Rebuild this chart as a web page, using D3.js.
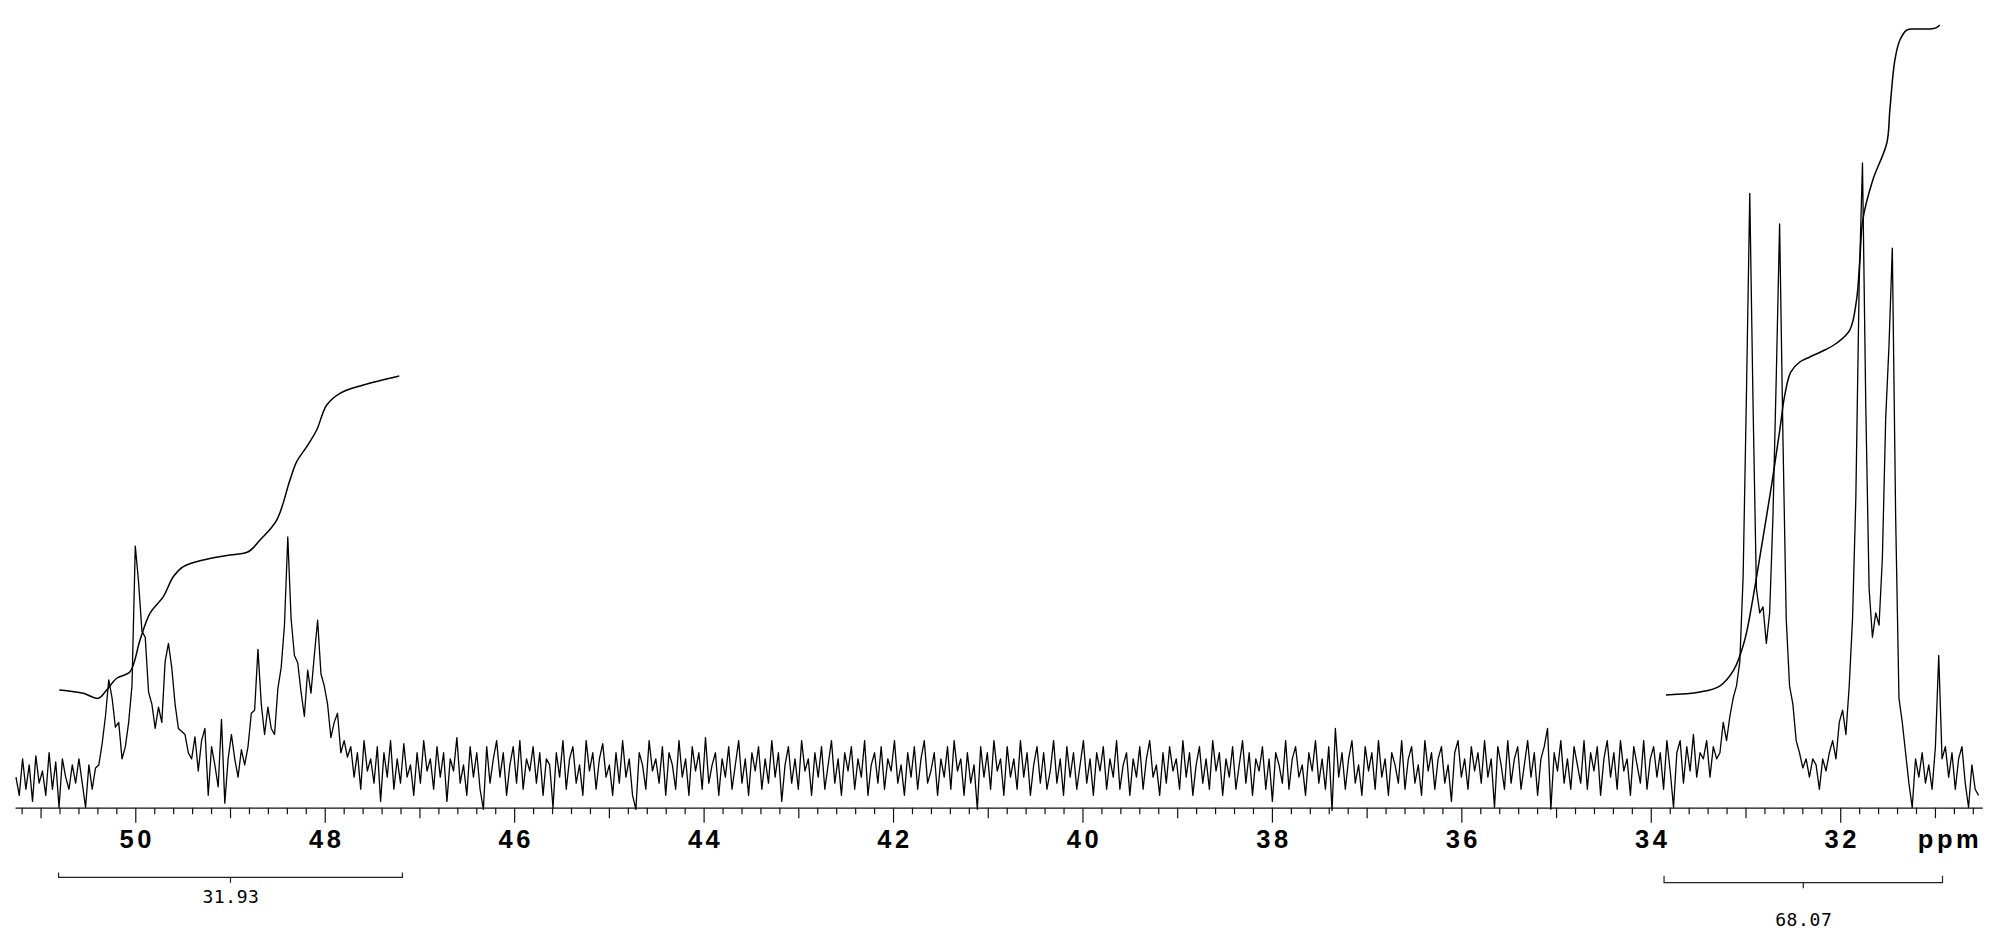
<!DOCTYPE html>
<html>
<head>
<meta charset="utf-8">
<script src="https://cdnjs.cloudflare.com/ajax/libs/d3/7.8.5/d3.min.js"></script>
<style>
  html, body { margin: 0; padding: 0; background: #fff; }
  svg { display: block; }
  .tick-label { font-family: "Liberation Sans", Arial, sans-serif; font-weight: bold; font-size: 25.5px; letter-spacing: 3.5px; fill: #000; }
  .int-label { font-family: "DejaVu Sans Mono", "Liberation Mono", monospace; font-size: 18px; letter-spacing: 0.6px; fill: #000; }
</style>
</head>
<body>
<div id="chart"></div>
<script>
// 13C spectrum, ppm grid: first point at 51.26 ppm, one point every 0.035 ppm
const ppmStart = 51.26;
const ppmStep = 0.035;

// intensity (0 = baseline, 100 = tallest line at 31.77 ppm)
const spectrum = [
  -1, -4, 2, -3, 1, -5, 2.5, -2, 0, -4, 3, -3, 1.5, -6, 2, -1, -3, 1, -2, 2,
  -2, -6, 1, -3, 0.5, 1, 4.5, 9, 15, 12, 7.2, 8, 2, 4, 8, 14, 37, 31, 23, 22,
  13, 11, 7, 10.5, 8, 18, 21, 17, 11, 7, 6.5, 6, 3, 2, 5.6, 0, 5, 7, -4, 4,
  1, -2.6, 8.5, -5.3, 2, 6, 2, -1, 3.5, 1, 4, 9.5, 10, 20, 11, 6, 10.5, 7, 6, 13.5,
  17, 24, 38.5, 25, 19, 17.8, 13, 9, 16.6, 12.8, 19, 24.8, 16, 14, 11, 5.5, 8, 9.5, 3, 5,
  2.3, 4, -1, 3, -3, 5, 0, 2, -2, 4, -5, 3, -1, 5, -3, 2, -2, 4.5, -1, 1,
  -4, 3, -2, 5, 0, 2, -3, 4, -1, 3, -5, 2, 0, 5.5, -2, 1, -4, 4, -1, 3,
  -3, -6.3, 4, -2, 2, 5, -1, 3, -4, 1, 4, -2, 5, -3, 2, 0, 4, -2, 3, -4,
  2, 1, -6, 3, -1, 5, -3, 2, 4, -2, 1, -4, 5, 0, 3, -3, 2, 4.5, -1, 1,
  -4, 3, -2, 5, -1, 2, -4, -6.3, 3, 1, -3, 5, 0, 2, -2, 4, -4, 3, 1, -3,
  5, -1, 2, -4, 4, 0, 3, -3, 5.5, -2, 1, 3, -4, 2, -1, 4, -3, 1, 5, -2,
  2, -4, 3, 0, 4, -3, 2, -2, 5, -1, 3, -5, 1, 4, -2, 2, -3, 5, 0, 2,
  -4, 3, -1, 4, -3, 1, 5, -2, 2, -4, 3, 0, 4, -3, 2, -1, 5, -4, 1, 3,
  -2, 4, -3, 2, 0, 5, -2, 1, -4, 3, -1, 4, -3, 2, 5, -2, 0, 3, -4, 2,
  -1, 4, -3, 5, 0, 2, -4, 3, -2, 1, -6.3, 4, -1, 3, -3, 5, 0, 2, -4, 4,
  -1, 2, -3, 5, -1, 3, -4, 1, 4, -2, 3, -3, 0, 5, -2, 2, -4, 4, -1, 3,
  -3, 1, 5, -2, 2, -4, 3, 0, 4, -3, 2, -1, 5, -3, 1, 3, -4, 2, -1, 4,
  -3, 2, 5, -1, 1, -4, 3, -2, 4, 0, 2, -3, 5, -1, 3, -4, 1, 4, -2, 2,
  -3, 5, 0, 3, -4, 2, -1, 4, -3, 1, 5, -2, 3, -4, 2, 0, 4, -3, 2, -5,
  3, 1, -2, 5, -3, 2, 4, -1, 1, -4, 3, 0, 5, -2, 2, -3, 4, -6.5, 7, -1,
  3, -3, 2, 5, -2, 1, -4, 4, 0, 3, -3, 5, -1, 2, -4, 3, 1, -2, 5, -3,
  2, 4, -2, 1, -4, 5, 0, 3, -3, 2, 4, -2, 1, -5, 3, 5, -1, 2, -3, 4,
  0, 3, -2, 5, -1, 2, -6, 4, 1, -3, 5, -2, 2, 4, -3, 1, 5, -1, 3, -4,
  2, 4, 7, -6.3, 3, 0, 5, -2, 2, -3, 4, 1, -2, 5, -3, 3, 0, 4, -4, 2,
  5, -1, 3, -3, 5, 0, 2, -4, 4, 1, -2, 5, -3, 2, 4, -1, 3, -3, 5, 0,
  -6, 3, 5, -2, 4, 0, 6, -1, 3, 2, 5, -1, 4, 2, 3, 8, 5, 9, 12, 14,
  18, 32, 62, 95, 60, 30, 26, 27, 21, 26, 42, 65, 90, 55, 25, 14, 11, 5, 3, 0.5,
  2, -1, 2, 1, -3, 2, 0, 3, 5, 2, 8, 10, 6, 14, 25, 45, 80, 100, 60, 30,
  22, 26, 24, 35, 58, 70, 86, 42, 12, 8, 3, -2, -6, 2, -1, 3, -2, 1, -3, 4,
  19, 2, 4, -1, 3, -3, 2, 4, -2, -6, 1, -3, -4
];

// integral traces [ppm, % of total]
const leftIntegral = [
  [50.802, 1.02], [50.549, 0.68], [50.391, 0.17], [50.302, 1.02], [50.196, 2.21],
  [50.056, 2.88], [49.950, 6.10], [49.845, 8.81], [49.704, 10.50], [49.599, 12.53],
  [49.493, 13.55], [49.282, 14.23], [49.000, 14.74], [48.807, 15.07], [48.683, 16.26],
  [48.507, 18.29], [48.367, 22.36], [48.296, 24.22], [48.190, 25.74], [48.085, 27.44],
  [47.979, 29.98], [47.839, 31.17], [47.593, 32.01], [47.213, 32.93]
];
const rightIntegral = [
  [33.840, 0.51], [33.481, 0.81], [33.272, 1.42], [33.124, 3.05], [33.008, 6.10],
  [32.923, 10.26], [32.828, 15.75], [32.723, 21.95], [32.638, 27.44], [32.585, 31.0],
  [32.522, 33.33], [32.427, 34.35], [32.321, 34.86], [32.163, 35.57], [32.036, 36.28],
  [31.899, 37.6], [31.828, 40.65], [31.793, 44.72], [31.762, 48.78], [31.656, 52.85],
  [31.508, 56.61], [31.476, 59.96], [31.423, 65.04], [31.370, 67.07], [31.296, 68.09],
  [31.212, 68.19], [31.053, 68.19], [30.990, 68.3], [30.948, 68.6]
];

// integral ranges under the axis
const integralFrom = [50.81, 33.86];
const integralTo = [47.18, 30.92];
const integralLabels = ["31.93", "68.07"];

const ppmLabels = [50, 48, 46, 44, 42, 40, 38, 36, 34, 32];

const width = 1999;
const height = 952;
const axisY = 807.7;

const svg = d3.select("#chart")
  .append("svg")
  .attr("width", width)
  .attr("height", height);

// ppm axis runs right to left
const x = d3.scaleLinear().domain([51.27, 30.5]).range([15, 1982.3]);
const y = d3.scaleLinear().domain([0, 100]).range([771, 163]);
const yInt = d3.scaleLinear().domain([0, 100]).range([700, -284]);

// ticks every 0.2 ppm
const tickVals = d3.range(306, 513, 2).map(v => v / 10);

const axis = d3.axisBottom(x)
  .tickValues(tickVals)
  .tickSizeOuter(0)
  .tickFormat(d => ppmLabels.includes(Math.round(d * 10) / 10) ? d3.format("d")(d) : "");

const gAxis = svg.append("g")
  .attr("transform", `translate(0,${axisY})`)
  .call(axis);

gAxis.select(".domain").attr("stroke", "#111").attr("stroke-width", 1.3);
gAxis.selectAll(".tick line")
  .attr("stroke", "#111")
  .attr("stroke-width", 1.2)
  .attr("y2", d => {
    const t = Math.round(d * 10);
    if (t % 20 === 0) return 15;
    if (t % 10 === 0) return 10.5;
    return 6.5;
  });
gAxis.selectAll(".tick text")
  .attr("class", "tick-label")
  .attr("y", 40.5)
  .attr("dy", 0)
  .attr("dx", 1.5)
  .attr("fill", null);

svg.append("text")
  .attr("class", "tick-label")
  .attr("x", 1950)
  .attr("y", axisY + 40.5)
  .attr("text-anchor", "middle")
  .text("ppm");

// spectrum trace
const line = d3.line()
  .x((d, i) => x(ppmStart - i * ppmStep))
  .y(d => y(d));

svg.append("path")
  .datum(spectrum)
  .attr("fill", "none")
  .attr("stroke", "#000")
  .attr("stroke-width", 1.3)
  .attr("stroke-linejoin", "round")
  .attr("d", line);

// integral curves
const intLine = d3.line()
  .x(d => x(d[0]))
  .y(d => yInt(d[1]))
  .curve(d3.curveCatmullRom.alpha(0.5));

[leftIntegral, rightIntegral].forEach(data => {
  svg.append("path")
    .datum(data)
    .attr("fill", "none")
    .attr("stroke", "#000")
    .attr("stroke-width", 1.5)
    .attr("d", intLine);
});

// integral brackets
const bracketY = [877.3, 882.7];
const bracketUp = [4.7, 7];
const labelY = [903.3, 926];

integralLabels.forEach((label, i) => {
  const x0 = x(integralFrom[i]);
  const x1 = x(integralTo[i]);
  const xm = (x0 + x1) / 2;
  const by = bracketY[i];
  const g = svg.append("g")
    .attr("stroke", "#222")
    .attr("stroke-width", 1.2)
    .attr("fill", "none");
  g.append("path")
    .attr("d", `M${x0},${by - bracketUp[i]}V${by}H${x1}V${by - bracketUp[i]}`);
  g.append("line")
    .attr("x1", xm).attr("x2", xm)
    .attr("y1", by).attr("y2", by + 5.5);
  svg.append("text")
    .attr("class", "int-label")
    .attr("x", xm + 0.5)
    .attr("y", labelY[i])
    .attr("text-anchor", "middle")
    .text(label);
});
</script>
</body>
</html>
